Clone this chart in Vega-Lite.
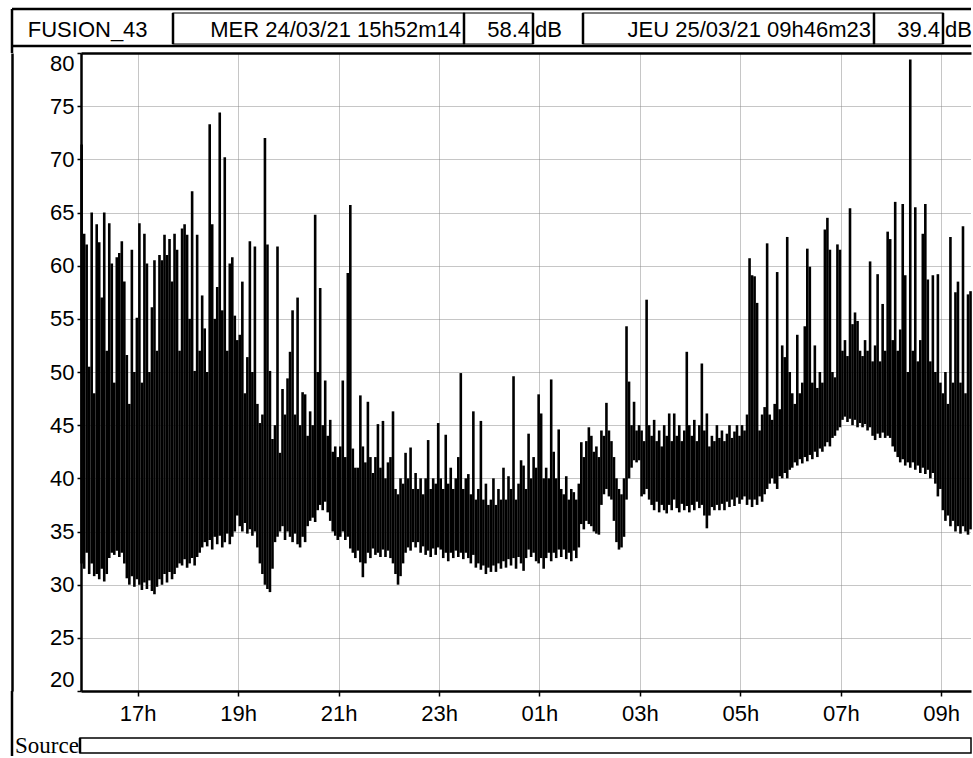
{
  "$schema": "https://vega.github.io/schema/vega-lite/v6.json",
  "background": "white",
  "padding": {"left": 10, "top": 7, "right": 0, "bottom": 0},
  "bounds": "flush",
  "spacing": 0,
  "config": {"view": {"stroke": null}, "font": "Liberation Sans"},
  "vconcat": [
    {
      "width": 890,
      "height": 44,
      "layer": [
        {
          "data": {"values": [
            {"from": 0, "to": 7, "top": 0, "bottom": 0},
            {"from": 0, "to": 7, "top": 4, "bottom": 4},
            {"from": 0, "to": 0, "top": 0, "bottom": 5},
            {"from": 1, "to": 1, "top": 1, "bottom": 3},
            {"from": 2, "to": 2, "top": 1, "bottom": 3},
            {"from": 3, "to": 3, "top": 1, "bottom": 3},
            {"from": 4, "to": 4, "top": 1, "bottom": 3},
            {"from": 5, "to": 5, "top": 1, "bottom": 3},
            {"from": 6, "to": 6, "top": 1, "bottom": 3}
          ]},
          "mark": {"type": "rule", "stroke": "black", "strokeWidth": 2.5},
          "encoding": {
            "x": {"field": "from", "type": "quantitative", "axis": null, "scale": {"domain": [0, 1, 2, 3, 4, 5, 6, 7], "range": [-69, 92, 383, 452, 502, 793, 862, 890], "nice": false, "zero": false}},
            "x2": {"field": "to"},
            "y": {"field": "top", "type": "quantitative", "axis": null, "scale": {"domain": [0, 1, 2, 3, 4, 5], "range": [0, 4, 21, 35, 37, 44], "nice": false, "zero": false}},
            "y2": {"field": "bottom"}
          }
        },
        {
          "data": {"values": [
            {"from": 1, "to": 2, "top": 1, "bottom": 3},
            {"from": 2, "to": 3, "top": 1, "bottom": 3},
            {"from": 4, "to": 5, "top": 1, "bottom": 3},
            {"from": 5, "to": 6, "top": 1, "bottom": 3}
          ]},
          "mark": {"type": "rect", "fill": "white", "fillOpacity": 0, "stroke": "black", "strokeWidth": 1.2},
          "encoding": {
            "x": {"field": "from", "type": "quantitative", "axis": null, "scale": {"domain": [0, 1, 2, 3, 4, 5, 6, 7], "range": [-69, 92, 383, 452, 502, 793, 862, 890], "nice": false, "zero": false}},
            "x2": {"field": "to"},
            "y": {"field": "top", "type": "quantitative", "axis": null, "scale": {"domain": [0, 1, 2, 3, 4, 5], "range": [0, 4, 21, 35, 37, 44], "nice": false, "zero": false}},
            "y2": {"field": "bottom"}
          }
        },
        {
          "data": {"values": [{"label": "FUSION_43", "at": 0.47, "row": 2}]},
          "mark": {"type": "text", "align": "center", "baseline": "middle", "fontSize": 22, "font": "Liberation Sans", "color": "black"},
          "encoding": {
            "x": {"field": "at", "type": "quantitative", "axis": null, "scale": {"domain": [0, 1, 2, 3, 4, 5, 6, 7], "range": [-69, 92, 383, 452, 502, 793, 862, 890], "nice": false, "zero": false}},
            "y": {"field": "row", "type": "quantitative", "axis": null, "scale": {"domain": [0, 1, 2, 3, 4, 5], "range": [0, 4, 21, 35, 37, 44], "nice": false, "zero": false}},
            "text": {"field": "label"}
          }
        },
        {
          "data": {"values": [
            {"label": "MER 24/03/21 15h52m14", "at": 2, "row": 2},
            {"label": "58.4", "at": 3, "row": 2},
            {"label": "JEU 25/03/21 09h46m23", "at": 5, "row": 2},
            {"label": "39.4", "at": 6, "row": 2}
          ]},
          "mark": {"type": "text", "align": "right", "baseline": "middle", "dx": -3, "fontSize": 22, "font": "Liberation Sans", "color": "black"},
          "encoding": {
            "x": {"field": "at", "type": "quantitative", "axis": null, "scale": {"domain": [0, 1, 2, 3, 4, 5, 6, 7], "range": [-69, 92, 383, 452, 502, 793, 862, 890], "nice": false, "zero": false}},
            "y": {"field": "row", "type": "quantitative", "axis": null, "scale": {"domain": [0, 1, 2, 3, 4, 5], "range": [0, 4, 21, 35, 37, 44], "nice": false, "zero": false}},
            "text": {"field": "label"}
          }
        },
        {
          "data": {"values": [
            {"label": "dB", "at": 3, "row": 2},
            {"label": "dB", "at": 6, "row": 2}
          ]},
          "mark": {"type": "text", "align": "left", "baseline": "middle", "dx": 2, "fontSize": 22, "font": "Liberation Sans", "color": "black"},
          "encoding": {
            "x": {"field": "at", "type": "quantitative", "axis": null, "scale": {"domain": [0, 1, 2, 3, 4, 5, 6, 7], "range": [-69, 92, 383, 452, 502, 793, 862, 890], "nice": false, "zero": false}},
            "y": {"field": "row", "type": "quantitative", "axis": null, "scale": {"domain": [0, 1, 2, 3, 4, 5], "range": [0, 4, 21, 35, 37, 44], "nice": false, "zero": false}},
            "text": {"field": "label"}
          }
        }
      ]
    },
    {
      "width": 890,
      "height": 638,
      "layer": [
        {
          "data": {"values": [
            {"t":"2021-03-24T15:53","lo":32,"hi":71.4},{"t":"2021-03-24T15:56","lo":31.5,"hi":63},{"t":"2021-03-24T15:59","lo":33,"hi":62},
            {"t":"2021-03-24T16:02","lo":31,"hi":50.5},{"t":"2021-03-24T16:05","lo":32,"hi":65},{"t":"2021-03-24T16:08","lo":30.8,"hi":48},{"t":"2021-03-24T16:11","lo":31,"hi":63.9},{"t":"2021-03-24T16:14","lo":30.5,"hi":62.2},{"t":"2021-03-24T16:17","lo":31.5,"hi":57},{"t":"2021-03-24T16:20","lo":30.3,"hi":65},{"t":"2021-03-24T16:23","lo":31,"hi":52},{"t":"2021-03-24T16:26","lo":32.5,"hi":64},{"t":"2021-03-24T16:29","lo":33,"hi":60.2},{"t":"2021-03-24T16:32","lo":32.8,"hi":49},{"t":"2021-03-24T16:35","lo":33.2,"hi":60.8},{"t":"2021-03-24T16:38","lo":32.6,"hi":61.2},{"t":"2021-03-24T16:41","lo":33,"hi":62.3},{"t":"2021-03-24T16:44","lo":32,"hi":58.5},{"t":"2021-03-24T16:47","lo":30.6,"hi":51.6},{"t":"2021-03-24T16:50","lo":30,"hi":47},{"t":"2021-03-24T16:53","lo":30.8,"hi":61.5},{"t":"2021-03-24T16:56","lo":29.8,"hi":50},{"t":"2021-03-24T16:59","lo":30.5,"hi":55.1},
            {"t":"2021-03-24T17:02","lo":30,"hi":64},{"t":"2021-03-24T17:05","lo":29.5,"hi":49},{"t":"2021-03-24T17:08","lo":30.2,"hi":63},{"t":"2021-03-24T17:11","lo":29.6,"hi":60.2},{"t":"2021-03-24T17:14","lo":30.4,"hi":50},{"t":"2021-03-24T17:17","lo":29.4,"hi":56.1},{"t":"2021-03-24T17:20","lo":29.1,"hi":60.5},{"t":"2021-03-24T17:23","lo":29.8,"hi":52},{"t":"2021-03-24T17:26","lo":30.5,"hi":61},{"t":"2021-03-24T17:29","lo":30,"hi":60.5},{"t":"2021-03-24T17:32","lo":31,"hi":62.9},{"t":"2021-03-24T17:35","lo":30.2,"hi":61},{"t":"2021-03-24T17:38","lo":31.2,"hi":62.5},{"t":"2021-03-24T17:41","lo":30.5,"hi":58.5},{"t":"2021-03-24T17:44","lo":31,"hi":63},{"t":"2021-03-24T17:47","lo":31.6,"hi":61.5},{"t":"2021-03-24T17:50","lo":32,"hi":52},{"t":"2021-03-24T17:53","lo":31.8,"hi":63.5},{"t":"2021-03-24T17:56","lo":32.4,"hi":63.9},{"t":"2021-03-24T17:59","lo":31.6,"hi":62.9},
            {"t":"2021-03-24T18:02","lo":32,"hi":55},{"t":"2021-03-24T18:05","lo":32.5,"hi":67},{"t":"2021-03-24T18:08","lo":31.8,"hi":50.1},{"t":"2021-03-24T18:11","lo":32.6,"hi":62.9},{"t":"2021-03-24T18:14","lo":33,"hi":52},{"t":"2021-03-24T18:17","lo":33.5,"hi":57.2},{"t":"2021-03-24T18:20","lo":34,"hi":54.1},{"t":"2021-03-24T18:23","lo":33.6,"hi":50},{"t":"2021-03-24T18:26","lo":34.2,"hi":73.3},{"t":"2021-03-24T18:29","lo":33.3,"hi":63.9},{"t":"2021-03-24T18:32","lo":34.5,"hi":55},{"t":"2021-03-24T18:35","lo":33.8,"hi":58},{"t":"2021-03-24T18:38","lo":34.6,"hi":74.4},{"t":"2021-03-24T18:41","lo":33.5,"hi":55.8},{"t":"2021-03-24T18:44","lo":34,"hi":70.2},{"t":"2021-03-24T18:47","lo":34.8,"hi":52},{"t":"2021-03-24T18:50","lo":33.8,"hi":60.2},{"t":"2021-03-24T18:53","lo":34.5,"hi":60.8},{"t":"2021-03-24T18:56","lo":35,"hi":55.3},{"t":"2021-03-24T18:59","lo":36.5,"hi":53},
            {"t":"2021-03-24T19:02","lo":35.5,"hi":53.5},{"t":"2021-03-24T19:05","lo":35,"hi":58.5},{"t":"2021-03-24T19:08","lo":35.8,"hi":48},{"t":"2021-03-24T19:11","lo":34.8,"hi":51.4},{"t":"2021-03-24T19:14","lo":35.2,"hi":62.3},{"t":"2021-03-24T19:17","lo":34.6,"hi":50},{"t":"2021-03-24T19:20","lo":35,"hi":61.8},{"t":"2021-03-24T19:23","lo":33.5,"hi":47},{"t":"2021-03-24T19:26","lo":32,"hi":45.2},{"t":"2021-03-24T19:29","lo":31,"hi":46},{"t":"2021-03-24T19:32","lo":30,"hi":72},{"t":"2021-03-24T19:35","lo":29.6,"hi":62},{"t":"2021-03-24T19:38","lo":29.3,"hi":50.1},{"t":"2021-03-24T19:41","lo":31.5,"hi":43.7},{"t":"2021-03-24T19:44","lo":34,"hi":45},{"t":"2021-03-24T19:47","lo":34.5,"hi":61.8},{"t":"2021-03-24T19:50","lo":35,"hi":42.4},{"t":"2021-03-24T19:53","lo":35.5,"hi":48.4},{"t":"2021-03-24T19:56","lo":34.2,"hi":46},{"t":"2021-03-24T19:59","lo":35,"hi":49.4},
            {"t":"2021-03-24T20:02","lo":34.5,"hi":51.9},{"t":"2021-03-24T20:05","lo":34,"hi":55.8},{"t":"2021-03-24T20:08","lo":34.8,"hi":46},{"t":"2021-03-24T20:11","lo":33.8,"hi":57},{"t":"2021-03-24T20:14","lo":33.5,"hi":45},{"t":"2021-03-24T20:17","lo":34.5,"hi":48.1},{"t":"2021-03-24T20:20","lo":34,"hi":47.9},{"t":"2021-03-24T20:23","lo":35.5,"hi":44},{"t":"2021-03-24T20:26","lo":36,"hi":46.3},{"t":"2021-03-24T20:29","lo":36.3,"hi":45},{"t":"2021-03-24T20:32","lo":35.9,"hi":64.8},{"t":"2021-03-24T20:35","lo":37,"hi":50},{"t":"2021-03-24T20:38","lo":37.5,"hi":57.9},{"t":"2021-03-24T20:41","lo":37,"hi":45},{"t":"2021-03-24T20:44","lo":37.8,"hi":49.2},{"t":"2021-03-24T20:47","lo":36.8,"hi":44},{"t":"2021-03-24T20:50","lo":36,"hi":45.5},{"t":"2021-03-24T20:53","lo":35,"hi":42.5},{"t":"2021-03-24T20:56","lo":34.6,"hi":43},{"t":"2021-03-24T20:59","lo":34.2,"hi":42},
            {"t":"2021-03-24T21:02","lo":34.5,"hi":43},{"t":"2021-03-24T21:05","lo":35,"hi":49.2},{"t":"2021-03-24T21:08","lo":34.2,"hi":42},{"t":"2021-03-24T21:11","lo":34.5,"hi":59.3},{"t":"2021-03-24T21:14","lo":33.4,"hi":65.7},{"t":"2021-03-24T21:17","lo":33,"hi":42.8},{"t":"2021-03-24T21:20","lo":32.5,"hi":41},{"t":"2021-03-24T21:23","lo":33.2,"hi":41},{"t":"2021-03-24T21:26","lo":32.1,"hi":47.8},{"t":"2021-03-24T21:29","lo":30.7,"hi":43},{"t":"2021-03-24T21:32","lo":32,"hi":41.5},{"t":"2021-03-24T21:35","lo":33,"hi":47.2},{"t":"2021-03-24T21:38","lo":32.5,"hi":42},{"t":"2021-03-24T21:41","lo":33.4,"hi":40.5},{"t":"2021-03-24T21:44","lo":32.8,"hi":42},{"t":"2021-03-24T21:47","lo":33,"hi":45.1},{"t":"2021-03-24T21:50","lo":32.6,"hi":41},{"t":"2021-03-24T21:53","lo":33.3,"hi":45.4},{"t":"2021-03-24T21:56","lo":32.6,"hi":40},{"t":"2021-03-24T21:59","lo":33.2,"hi":41.5},
            {"t":"2021-03-24T22:02","lo":32.5,"hi":42},{"t":"2021-03-24T22:05","lo":32,"hi":46.3},{"t":"2021-03-24T22:08","lo":31,"hi":39},{"t":"2021-03-24T22:11","lo":30,"hi":38.5},{"t":"2021-03-24T22:14","lo":30.8,"hi":40},{"t":"2021-03-24T22:17","lo":32,"hi":39.5},{"t":"2021-03-24T22:20","lo":33,"hi":42.4},{"t":"2021-03-24T22:23","lo":33.5,"hi":40},{"t":"2021-03-24T22:26","lo":33.2,"hi":42.9},{"t":"2021-03-24T22:29","lo":34,"hi":39},{"t":"2021-03-24T22:32","lo":33.5,"hi":40.5},{"t":"2021-03-24T22:35","lo":34,"hi":39},{"t":"2021-03-24T22:38","lo":33,"hi":40},{"t":"2021-03-24T22:41","lo":33.6,"hi":38.5},{"t":"2021-03-24T22:44","lo":32.8,"hi":40},{"t":"2021-03-24T22:47","lo":33.2,"hi":43.6},{"t":"2021-03-24T22:50","lo":32.6,"hi":39},{"t":"2021-03-24T22:53","lo":33.4,"hi":40},{"t":"2021-03-24T22:56","lo":32.8,"hi":39.5},{"t":"2021-03-24T22:59","lo":33.5,"hi":45.2},
            {"t":"2021-03-24T23:02","lo":33.3,"hi":40},{"t":"2021-03-24T23:05","lo":32.5,"hi":39},{"t":"2021-03-24T23:08","lo":33,"hi":44.1},{"t":"2021-03-24T23:11","lo":32.2,"hi":39.5},{"t":"2021-03-24T23:14","lo":33,"hi":41},{"t":"2021-03-24T23:17","lo":32.5,"hi":39},{"t":"2021-03-24T23:20","lo":33.2,"hi":40},{"t":"2021-03-24T23:23","lo":32.6,"hi":42},{"t":"2021-03-24T23:26","lo":33,"hi":49.9},{"t":"2021-03-24T23:29","lo":32.4,"hi":39},{"t":"2021-03-24T23:32","lo":33,"hi":40},{"t":"2021-03-24T23:35","lo":32.5,"hi":40.4},{"t":"2021-03-24T23:38","lo":32,"hi":38.5},{"t":"2021-03-24T23:41","lo":32.8,"hi":46.3},{"t":"2021-03-24T23:44","lo":31.6,"hi":38},{"t":"2021-03-24T23:47","lo":32,"hi":39},{"t":"2021-03-24T23:50","lo":31.4,"hi":45.4},{"t":"2021-03-24T23:53","lo":31.8,"hi":38},{"t":"2021-03-24T23:56","lo":31,"hi":39.5},{"t":"2021-03-24T23:59","lo":31.6,"hi":37.5},
            {"t":"2021-03-25T00:02","lo":31.2,"hi":38},{"t":"2021-03-25T00:05","lo":31.8,"hi":40},{"t":"2021-03-25T00:08","lo":31.2,"hi":37.5},{"t":"2021-03-25T00:11","lo":32,"hi":39},{"t":"2021-03-25T00:14","lo":31.5,"hi":38},{"t":"2021-03-25T00:17","lo":32.2,"hi":41},{"t":"2021-03-25T00:20","lo":31.6,"hi":38},{"t":"2021-03-25T00:23","lo":32.4,"hi":40.2},{"t":"2021-03-25T00:26","lo":31.8,"hi":39},{"t":"2021-03-25T00:29","lo":32.5,"hi":49.6},{"t":"2021-03-25T00:32","lo":31.5,"hi":38},{"t":"2021-03-25T00:35","lo":32.6,"hi":39.5},{"t":"2021-03-25T00:38","lo":32,"hi":41.7},{"t":"2021-03-25T00:41","lo":31.3,"hi":41.2},{"t":"2021-03-25T00:44","lo":32.5,"hi":39},{"t":"2021-03-25T00:47","lo":33.3,"hi":44.2},{"t":"2021-03-25T00:50","lo":32.6,"hi":40},{"t":"2021-03-25T00:53","lo":33,"hi":42},{"t":"2021-03-25T00:56","lo":32.2,"hi":41},{"t":"2021-03-25T00:59","lo":32,"hi":47.9},
            {"t":"2021-03-25T01:02","lo":32.5,"hi":46.1},{"t":"2021-03-25T01:05","lo":31.5,"hi":40},{"t":"2021-03-25T01:08","lo":32.5,"hi":41},{"t":"2021-03-25T01:11","lo":33,"hi":40},{"t":"2021-03-25T01:14","lo":32.2,"hi":49.3},{"t":"2021-03-25T01:17","lo":33,"hi":42.5},{"t":"2021-03-25T01:20","lo":32.5,"hi":40},{"t":"2021-03-25T01:23","lo":33.3,"hi":44.6},{"t":"2021-03-25T01:26","lo":32.6,"hi":39},{"t":"2021-03-25T01:29","lo":33.3,"hi":38.5},{"t":"2021-03-25T01:32","lo":32.4,"hi":40.2},{"t":"2021-03-25T01:35","lo":33,"hi":38},{"t":"2021-03-25T01:38","lo":32.2,"hi":39},{"t":"2021-03-25T01:41","lo":33.2,"hi":38.7},{"t":"2021-03-25T01:44","lo":32.5,"hi":38},{"t":"2021-03-25T01:47","lo":33.5,"hi":39.5},{"t":"2021-03-25T01:50","lo":35.7,"hi":43.4},{"t":"2021-03-25T01:53","lo":35.2,"hi":42},{"t":"2021-03-25T01:56","lo":36,"hi":43.5},{"t":"2021-03-25T01:59","lo":35.7,"hi":44.8},
            {"t":"2021-03-25T02:02","lo":35.5,"hi":44},{"t":"2021-03-25T02:05","lo":35,"hi":42.5},{"t":"2021-03-25T02:08","lo":34.8,"hi":43},{"t":"2021-03-25T02:11","lo":34.7,"hi":42},{"t":"2021-03-25T02:14","lo":37.5,"hi":44.5},{"t":"2021-03-25T02:17","lo":38.5,"hi":44},{"t":"2021-03-25T02:20","lo":39,"hi":47.1},{"t":"2021-03-25T02:23","lo":38.3,"hi":44.5},{"t":"2021-03-25T02:26","lo":38,"hi":43.5},{"t":"2021-03-25T02:29","lo":36,"hi":42},{"t":"2021-03-25T02:32","lo":34,"hi":40},{"t":"2021-03-25T02:35","lo":33.3,"hi":39},{"t":"2021-03-25T02:38","lo":33.5,"hi":38.5},{"t":"2021-03-25T02:41","lo":34.5,"hi":40},{"t":"2021-03-25T02:44","lo":38,"hi":54.3},{"t":"2021-03-25T02:47","lo":40,"hi":49.1},{"t":"2021-03-25T02:50","lo":41,"hi":45},{"t":"2021-03-25T02:53","lo":41.7,"hi":47.2},{"t":"2021-03-25T02:56","lo":41.5,"hi":44.5},{"t":"2021-03-25T02:59","lo":41.7,"hi":45},
            {"t":"2021-03-25T03:02","lo":38.3,"hi":44.5},{"t":"2021-03-25T03:05","lo":38.5,"hi":43.5},{"t":"2021-03-25T03:08","lo":39,"hi":56.8},{"t":"2021-03-25T03:11","lo":38,"hi":45},{"t":"2021-03-25T03:14","lo":37.5,"hi":44},{"t":"2021-03-25T03:17","lo":37,"hi":45.5},{"t":"2021-03-25T03:20","lo":37.8,"hi":43.5},{"t":"2021-03-25T03:23","lo":36.8,"hi":44.5},{"t":"2021-03-25T03:26","lo":37.5,"hi":43},{"t":"2021-03-25T03:29","lo":37,"hi":45},{"t":"2021-03-25T03:32","lo":36.7,"hi":44},{"t":"2021-03-25T03:35","lo":37.5,"hi":46.1},{"t":"2021-03-25T03:38","lo":37,"hi":43.5},{"t":"2021-03-25T03:41","lo":38,"hi":46.1},{"t":"2021-03-25T03:44","lo":37.2,"hi":44},{"t":"2021-03-25T03:47","lo":36.8,"hi":45},{"t":"2021-03-25T03:50","lo":37.6,"hi":43.5},{"t":"2021-03-25T03:53","lo":37,"hi":44.5},{"t":"2021-03-25T03:56","lo":37.4,"hi":51.9},{"t":"2021-03-25T03:59","lo":36.8,"hi":45},
            {"t":"2021-03-25T04:02","lo":37.5,"hi":44},{"t":"2021-03-25T04:05","lo":37,"hi":45.5},{"t":"2021-03-25T04:08","lo":37.8,"hi":43.5},{"t":"2021-03-25T04:11","lo":37.2,"hi":45},{"t":"2021-03-25T04:14","lo":37.5,"hi":50.8},{"t":"2021-03-25T04:17","lo":36.5,"hi":44.5},{"t":"2021-03-25T04:20","lo":35.3,"hi":46.1},{"t":"2021-03-25T04:23","lo":36.5,"hi":43},{"t":"2021-03-25T04:26","lo":37.3,"hi":44},{"t":"2021-03-25T04:29","lo":37,"hi":43.5},{"t":"2021-03-25T04:32","lo":37.5,"hi":45},{"t":"2021-03-25T04:35","lo":37,"hi":43.8},{"t":"2021-03-25T04:38","lo":37.6,"hi":44.5},{"t":"2021-03-25T04:41","lo":37,"hi":43.5},{"t":"2021-03-25T04:44","lo":37.8,"hi":44.2},{"t":"2021-03-25T04:47","lo":37.3,"hi":45},{"t":"2021-03-25T04:50","lo":38,"hi":43.8},{"t":"2021-03-25T04:53","lo":37.4,"hi":44.4},{"t":"2021-03-25T04:56","lo":38.2,"hi":45},{"t":"2021-03-25T04:59","lo":37.6,"hi":44},
            {"t":"2021-03-25T05:02","lo":38,"hi":45},{"t":"2021-03-25T05:05","lo":38.3,"hi":44.5},{"t":"2021-03-25T05:08","lo":37.5,"hi":46},{"t":"2021-03-25T05:11","lo":38,"hi":60.7},{"t":"2021-03-25T05:14","lo":37.3,"hi":59.1},{"t":"2021-03-25T05:17","lo":38,"hi":59},{"t":"2021-03-25T05:20","lo":37.5,"hi":56.5},{"t":"2021-03-25T05:23","lo":38.3,"hi":44.5},{"t":"2021-03-25T05:26","lo":37.8,"hi":46},{"t":"2021-03-25T05:29","lo":38.5,"hi":46.7},{"t":"2021-03-25T05:32","lo":39,"hi":62.1},{"t":"2021-03-25T05:35","lo":39.5,"hi":46},{"t":"2021-03-25T05:38","lo":40,"hi":45.5},{"t":"2021-03-25T05:41","lo":39.5,"hi":47},{"t":"2021-03-25T05:44","lo":39,"hi":59.4},{"t":"2021-03-25T05:47","lo":40.2,"hi":46.5},{"t":"2021-03-25T05:50","lo":40,"hi":52.5},{"t":"2021-03-25T05:53","lo":40.5,"hi":51.4},{"t":"2021-03-25T05:56","lo":40,"hi":62.7},{"t":"2021-03-25T05:59","lo":40.8,"hi":50},
            {"t":"2021-03-25T06:02","lo":41,"hi":48},{"t":"2021-03-25T06:05","lo":41.5,"hi":47},{"t":"2021-03-25T06:08","lo":41.2,"hi":53.5},{"t":"2021-03-25T06:11","lo":41.8,"hi":48},{"t":"2021-03-25T06:14","lo":41.4,"hi":49},{"t":"2021-03-25T06:17","lo":42,"hi":54.3},{"t":"2021-03-25T06:20","lo":41.6,"hi":61.6},{"t":"2021-03-25T06:23","lo":42.2,"hi":59.9},{"t":"2021-03-25T06:26","lo":41.8,"hi":49},{"t":"2021-03-25T06:29","lo":42.5,"hi":52.5},{"t":"2021-03-25T06:32","lo":42,"hi":48.5},{"t":"2021-03-25T06:35","lo":42.8,"hi":50},{"t":"2021-03-25T06:38","lo":42.5,"hi":49},{"t":"2021-03-25T06:41","lo":43,"hi":63.4},{"t":"2021-03-25T06:44","lo":43.4,"hi":64.5},{"t":"2021-03-25T06:47","lo":43,"hi":61.5},{"t":"2021-03-25T06:50","lo":43.8,"hi":50},{"t":"2021-03-25T06:53","lo":44,"hi":49.5},{"t":"2021-03-25T06:56","lo":44.5,"hi":62},{"t":"2021-03-25T06:59","lo":44.8,"hi":61.5},
            {"t":"2021-03-25T07:02","lo":45.5,"hi":52},{"t":"2021-03-25T07:05","lo":45.8,"hi":53},{"t":"2021-03-25T07:08","lo":45.3,"hi":51.5},{"t":"2021-03-25T07:11","lo":45.6,"hi":65.4},{"t":"2021-03-25T07:14","lo":45,"hi":54.5},{"t":"2021-03-25T07:17","lo":45.5,"hi":55.6},{"t":"2021-03-25T07:20","lo":44.8,"hi":54.8},{"t":"2021-03-25T07:23","lo":45.2,"hi":52},{"t":"2021-03-25T07:26","lo":44.8,"hi":51.5},{"t":"2021-03-25T07:29","lo":45.1,"hi":53},{"t":"2021-03-25T07:32","lo":44.5,"hi":52},{"t":"2021-03-25T07:35","lo":44.8,"hi":60.4},{"t":"2021-03-25T07:38","lo":44,"hi":51},{"t":"2021-03-25T07:41","lo":43.6,"hi":52.5},{"t":"2021-03-25T07:44","lo":44.2,"hi":59.2},{"t":"2021-03-25T07:47","lo":43.8,"hi":51},{"t":"2021-03-25T07:50","lo":44.3,"hi":56.4},{"t":"2021-03-25T07:53","lo":43.8,"hi":52},{"t":"2021-03-25T07:56","lo":44,"hi":63.2},{"t":"2021-03-25T07:59","lo":43.8,"hi":62.5},
            {"t":"2021-03-25T08:02","lo":43,"hi":53},{"t":"2021-03-25T08:05","lo":42.5,"hi":66},{"t":"2021-03-25T08:08","lo":42,"hi":52},{"t":"2021-03-25T08:11","lo":41.5,"hi":54},{"t":"2021-03-25T08:14","lo":41.8,"hi":65.8},{"t":"2021-03-25T08:17","lo":41.2,"hi":59.1},{"t":"2021-03-25T08:20","lo":41.5,"hi":50},{"t":"2021-03-25T08:23","lo":41,"hi":79.4},{"t":"2021-03-25T08:26","lo":41.5,"hi":52},{"t":"2021-03-25T08:29","lo":40.8,"hi":65.5},{"t":"2021-03-25T08:32","lo":41.2,"hi":51},{"t":"2021-03-25T08:35","lo":40.5,"hi":53},{"t":"2021-03-25T08:38","lo":41,"hi":63},{"t":"2021-03-25T08:41","lo":40.4,"hi":65.8},{"t":"2021-03-25T08:44","lo":40.8,"hi":58.7},{"t":"2021-03-25T08:47","lo":40,"hi":51},{"t":"2021-03-25T08:50","lo":40.5,"hi":59.1},{"t":"2021-03-25T08:53","lo":39.5,"hi":50},{"t":"2021-03-25T08:56","lo":38.3,"hi":59.2},{"t":"2021-03-25T08:59","lo":39,"hi":49},
            {"t":"2021-03-25T09:02","lo":37,"hi":48},{"t":"2021-03-25T09:05","lo":36,"hi":50},{"t":"2021-03-25T09:08","lo":36.5,"hi":47},{"t":"2021-03-25T09:11","lo":35.5,"hi":62.7},{"t":"2021-03-25T09:14","lo":36,"hi":49},{"t":"2021-03-25T09:17","lo":35,"hi":57.5},{"t":"2021-03-25T09:20","lo":35.5,"hi":58.5},{"t":"2021-03-25T09:23","lo":34.8,"hi":49},{"t":"2021-03-25T09:26","lo":35.5,"hi":63.7},{"t":"2021-03-25T09:29","lo":35,"hi":48},{"t":"2021-03-25T09:32","lo":34.7,"hi":57.3},{"t":"2021-03-25T09:35","lo":35.2,"hi":57.6}
          ]},
          "mark": {"type": "rule", "stroke": "black", "strokeWidth": 2.6},
          "encoding": {
            "x": {
              "field": "t", "type": "temporal",
              "scale": {"domain": [{"year": 2021, "month": 3, "date": 24, "hours": 15, "minutes": 52, "seconds": 14}, {"year": 2021, "month": 3, "date": 25, "hours": 9, "minutes": 35, "seconds": 34}]},
              "axis": {
                "title": null,
                "values": [
                  {"year": 2021, "month": 3, "date": 24, "hours": 17},
                  {"year": 2021, "month": 3, "date": 24, "hours": 19},
                  {"year": 2021, "month": 3, "date": 24, "hours": 21},
                  {"year": 2021, "month": 3, "date": 24, "hours": 23},
                  {"year": 2021, "month": 3, "date": 25, "hours": 1},
                  {"year": 2021, "month": 3, "date": 25, "hours": 3},
                  {"year": 2021, "month": 3, "date": 25, "hours": 5},
                  {"year": 2021, "month": 3, "date": 25, "hours": 7},
                  {"year": 2021, "month": 3, "date": 25, "hours": 9}
                ],
                "format": "%Hh",
                "grid": true, "gridColor": "#8c8c8c", "gridDash": [1, 1], "gridWidth": 1,
                "domainColor": "black", "domainWidth": 2.5,
                "tickColor": "black", "tickSize": 5, "tickWidth": 1.5,
                "labelFont": "Liberation Sans", "labelFontSize": 22, "labelColor": "black", "labelPadding": 7
              }
            },
            "y": {
              "field": "lo", "type": "quantitative",
              "scale": {"domain": [20, 80], "nice": false, "zero": false},
              "axis": {
                "title": null,
                "values": [20, 25, 30, 35, 40, 45, 50, 55, 60, 65, 70, 75, 80],
                "grid": true, "gridColor": "#8c8c8c", "gridDash": [1, 1], "gridWidth": 1,
                "domainColor": "black", "domainWidth": 2.5,
                "tickColor": "black", "tickSize": 4, "tickWidth": 1.5,
                "labelFont": "Liberation Sans", "labelFontSize": 22, "labelColor": "black", "labelPadding": 3,
                "labelFlush": true
              }
            },
            "y2": {"field": "hi"}
          }
        },
        {
          "data": {"values": [
            {"t": "2021-03-24T15:53", "lo": 20},
            {"t": "2021-03-25T09:35", "lo": 80}
          ]},
          "mark": {"type": "point", "opacity": 0},
          "encoding": {
            "x": {
              "field": "t", "type": "temporal",
              "scale": {"domain": [{"year": 2021, "month": 3, "date": 24, "hours": 15, "minutes": 52, "seconds": 14}, {"year": 2021, "month": 3, "date": 25, "hours": 9, "minutes": 35, "seconds": 34}]},
              "axis": {"orient": "top", "title": null, "labels": false, "ticks": false, "grid": false, "domainColor": "black", "domainWidth": 2.5}
            },
            "y": {
              "field": "lo", "type": "quantitative",
              "scale": {"domain": [20, 80], "nice": false, "zero": false},
              "axis": {"orient": "left", "offset": 69, "title": null, "labels": false, "ticks": false, "grid": false, "domainColor": "black", "domainWidth": 2.5}
            }
          }
        }
      ],
      "resolve": {"axis": {"x": "independent", "y": "independent"}}
    },
    {
      "width": 890,
      "height": 65,
      "layer": [
        {
          "data": {"values": [
            {"from": 0, "to": 0, "top": 0, "bottom": 3},
            {"from": 1, "to": 1, "top": 1, "bottom": 2}
          ]},
          "mark": {"type": "rule", "stroke": "black", "strokeWidth": 2.5},
          "encoding": {
            "x": {"field": "from", "type": "quantitative", "axis": null, "scale": {"domain": [0, 1, 2], "range": [-69, -1, 890], "nice": false, "zero": false}},
            "x2": {"field": "to"},
            "y": {"field": "top", "type": "quantitative", "axis": null, "scale": {"domain": [0, 1, 2, 3], "range": [0, 47, 62, 65], "nice": false, "zero": false}},
            "y2": {"field": "bottom"}
          }
        },
        {
          "data": {"values": [{"from": 1, "to": 2, "top": 1, "bottom": 2}]},
          "mark": {"type": "rect", "fill": "white", "fillOpacity": 0, "stroke": "black", "strokeWidth": 1.5},
          "encoding": {
            "x": {"field": "from", "type": "quantitative", "axis": null, "scale": {"domain": [0, 1, 2], "range": [-69, -1, 890], "nice": false, "zero": false}},
            "x2": {"field": "to"},
            "y": {"field": "top", "type": "quantitative", "axis": null, "scale": {"domain": [0, 1, 2, 3], "range": [0, 47, 62, 65], "nice": false, "zero": false}},
            "y2": {"field": "bottom"}
          }
        },
        {
          "data": {"values": [{"label": "Source", "at": 0, "row": 2}]},
          "mark": {"type": "text", "align": "left", "baseline": "alphabetic", "dx": 3, "fontSize": 23, "font": "Liberation Serif", "color": "black"},
          "encoding": {
            "x": {"field": "at", "type": "quantitative", "axis": null, "scale": {"domain": [0, 1, 2], "range": [-69, -1, 890], "nice": false, "zero": false}},
            "y": {"field": "row", "type": "quantitative", "axis": null, "scale": {"domain": [0, 1, 2, 3], "range": [0, 47, 62, 65], "nice": false, "zero": false}},
            "text": {"field": "label"}
          }
        }
      ]
    }
  ]
}
